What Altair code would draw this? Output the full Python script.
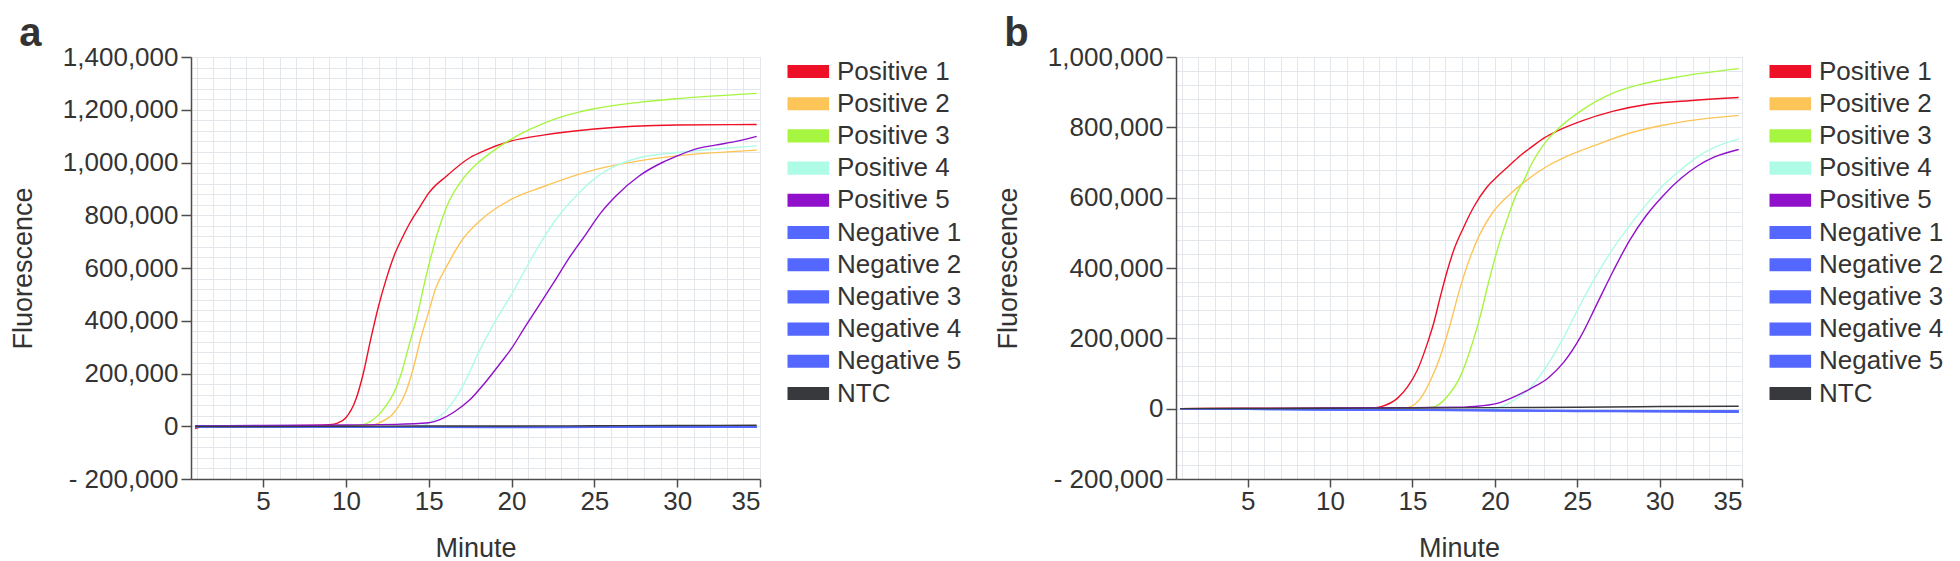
import altair as alt
import pandas as pd

FONT = "Liberation Sans, Arial, sans-serif"

series_names = ["Positive 1", "Positive 2", "Positive 3", "Positive 4", "Positive 5",
                "Negative 1", "Negative 2", "Negative 3", "Negative 4", "Negative 5", "NTC"]
series_colors = ["#ee1026", "#fdc457", "#a6f540", "#aefbe6", "#9010cc",
                 "#5468ff", "#5468ff", "#5468ff", "#5468ff", "#5468ff", "#38393d"]

x_tick_labels = [5, 10, 15, 20, 25, 30, 35]
grid_minutes = list(range(1, 36))

# ---------------- panel a ----------------
a_p1_min = [0.9, 1.5, 3, 6, 8, 9, 9.5, 10, 10.6, 11.05, 11.5, 11.97, 12.43, 12.9, 13.36, 13.82, 14.5, 15, 16.1, 17.5, 18.4, 20, 21.9, 25, 30, 34.8]
a_p1_val = [-9000, 1000, 1500, 2000, 3000, 6000, 12000, 32000, 101000, 200000, 330000, 455000, 557000, 645000, 709000, 766000, 835000, 884000, 950000, 1019000, 1046000, 1082000, 1104000, 1127000, 1142000, 1144000]

a_p2_min = [0.9, 5, 10, 11.5, 12, 12.9, 13.6, 14.05, 14.5, 14.98, 15.4, 16.1, 17.05, 18.2, 20, 21.9, 24, 25, 27.7, 30, 34.8]
a_p2_val = [0, 1000, 1500, 3000, 13000, 51000, 127000, 215000, 329000, 430000, 519000, 608000, 709000, 785000, 861000, 908000, 954000, 972000, 1006000, 1025000, 1047000]

a_p3_min = [0.9, 5, 10, 10.6, 11.05, 11.5, 12, 12.4, 12.9, 13.36, 13.8, 14.3, 14.75, 15.2, 15.67, 16.1, 17.05, 18, 18.9, 20, 21.2, 22.4, 24, 25, 27.7, 30, 34.8]
a_p3_val = [0, 1000, 2000, 3000, 6000, 19000, 44000, 76000, 127000, 203000, 304000, 418000, 544000, 658000, 760000, 835000, 937000, 1000000, 1044000, 1089000, 1128000, 1160000, 1190000, 1204000, 1228000, 1242000, 1262000]

a_p4_min = [0.9, 5, 10, 13, 14.75, 15.2, 16.1, 17.05, 18, 18.9, 20, 20.75, 21.7, 23.06, 24, 25, 26.3, 27.7, 30, 32.3, 34.8]
a_p4_val = [0, -1000, -2000, -3000, 4000, 19000, 63000, 152000, 278000, 385000, 500000, 585000, 690000, 815000, 880000, 938000, 988000, 1018000, 1038000, 1051000, 1063000]

a_p5_min = [0.9, 5, 10, 13, 15, 15.67, 16.6, 17.5, 18.4, 19.4, 20, 20.75, 21.7, 22.6, 23.5, 24.4, 25.4, 26.3, 27.7, 29.1, 30, 31.1, 32.3, 33.7, 34.8]
a_p5_val = [2000, 3000, 5000, 7000, 13000, 25000, 57000, 101000, 165000, 245000, 295000, 370000, 462000, 550000, 640000, 720000, 810000, 873000, 949000, 1000000, 1025000, 1051000, 1066000, 1082000, 1099000]

a_base_min = [0.9, 5, 10, 15, 20, 25, 30, 34.8]
a_n1 = [-2000, -2000, -3000, -4000, -4000, -3000, -3000, -2000]
a_n2 = [-1000, -2000, -3000, -3000, -4000, -4000, -3000, -3000]
a_n3 = [-2000, -3000, -3000, -4000, -5000, -4000, -4000, -4000]
a_n4 = [-1000, -1000, -2000, -3000, -3000, -3000, -2000, -2000]
a_n5 = [-2000, -2000, -2000, -3000, -4000, -4000, -4000, -3000]
a_ntc = [-1000, -1000, 0, 1000, 1000, 2000, 3000, 4000]

a_y_ticks = [-200000, 0, 200000, 400000, 600000, 800000, 1000000, 1200000, 1400000]

# ---------------- panel b ----------------
b_p1_min = [0.9, 5, 10, 12.5, 13.1, 14.1, 14.7, 15.3, 15.9, 16.3, 16.7, 17.1, 17.5, 18.1, 18.7, 19.5, 20.15, 20.8, 21.5, 22.2, 23, 23.8, 25.2, 27.2, 29.2, 31.3, 34.8]
b_p1_val = [0, 2000, 2000, 2000, 6000, 30000, 62000, 110000, 185000, 245000, 320000, 390000, 450000, 515000, 572000, 629000, 660000, 688000, 718000, 743000, 770000, 790000, 817000, 846000, 865000, 874000, 885000]

b_p2_min = [0.9, 5, 10, 14, 14.7, 15.5, 16.1, 16.7, 17.3, 17.9, 18.5, 19.1, 19.9, 20.8, 21.8, 23.2, 24.2, 26.2, 28.2, 30.2, 32.3, 34.8]
b_p2_val = [0, 1000, 1000, 1000, 3000, 30000, 81000, 150000, 242000, 345000, 430000, 497000, 560000, 605000, 645000, 690000, 714000, 751000, 784000, 806000, 822000, 834000]

b_p3_min = [0.9, 5, 10, 15, 16.3, 17.1, 17.9, 18.5, 19.1, 19.7, 20.3, 20.76, 21.36, 21.77, 22.17, 23.2, 23.8, 25.2, 27.2, 29.2, 31.3, 34.8]
b_p3_val = [0, 1000, 1000, 1000, 5000, 34000, 91000, 166000, 261000, 374000, 475000, 540000, 615000, 650000, 690000, 765000, 794000, 846000, 898000, 926000, 945000, 967000]

b_p4_min = [0.9, 5, 10, 15, 19, 20.15, 21.2, 22.2, 23.2, 24.2, 25.2, 26.2, 27.2, 28.2, 29.2, 30.2, 31.3, 32.3, 33.3, 34.8]
b_p4_val = [0, -2000, -3000, -4000, -3000, 2000, 25000, 62000, 125000, 205000, 297000, 382000, 457000, 522000, 581000, 634000, 680000, 716000, 742000, 767000]

b_p5_min = [0.9, 5, 10, 15, 18, 18.7, 20.15, 21.2, 22.2, 23.2, 24.2, 25.2, 26.2, 27.2, 28.2, 29.2, 30.2, 31.3, 32.3, 33.3, 34.8]
b_p5_val = [0, 1000, 2000, 3000, 4000, 6000, 15000, 34000, 58000, 86000, 133000, 204000, 298000, 393000, 480000, 550000, 605000, 655000, 690000, 715000, 737000]

b_base_min = [0.9, 5, 10, 15, 20, 25, 30, 34.8]
b_n1 = [0, -2000, -3000, -4000, -5000, -6000, -7000, -8000]
b_n2 = [0, -1000, -3000, -4000, -6000, -7000, -8000, -9000]
b_n3 = [0, -2000, -2000, -3000, -4000, -5000, -6000, -6000]
b_n4 = [0, -2000, -4000, -5000, -6000, -8000, -9000, -10000]
b_n5 = [0, -1000, -2000, -3000, -5000, -6000, -7000, -7000]
b_ntc = [0, 0, 1000, 2000, 3000, 4000, 6000, 7000]

b_y_ticks = [-200000, 0, 200000, 400000, 600000, 800000, 1000000]


def build_frame(series):
    rows = []
    for name, mins, vals in series:
        for m, v in zip(mins, vals):
            rows.append({"Series": name, "Minute": m, "Fluorescence": v})
    return pd.DataFrame(rows)


df_a = build_frame([
    ("Positive 1", a_p1_min, a_p1_val), ("Positive 2", a_p2_min, a_p2_val),
    ("Positive 3", a_p3_min, a_p3_val), ("Positive 4", a_p4_min, a_p4_val),
    ("Positive 5", a_p5_min, a_p5_val),
    ("Negative 1", a_base_min, a_n1), ("Negative 2", a_base_min, a_n2),
    ("Negative 3", a_base_min, a_n3), ("Negative 4", a_base_min, a_n4),
    ("Negative 5", a_base_min, a_n5), ("NTC", a_base_min, a_ntc),
])
df_b = build_frame([
    ("Positive 1", b_p1_min, b_p1_val), ("Positive 2", b_p2_min, b_p2_val),
    ("Positive 3", b_p3_min, b_p3_val), ("Positive 4", b_p4_min, b_p4_val),
    ("Positive 5", b_p5_min, b_p5_val),
    ("Negative 1", b_base_min, b_n1), ("Negative 2", b_base_min, b_n2),
    ("Negative 3", b_base_min, b_n3), ("Negative 4", b_base_min, b_n4),
    ("Negative 5", b_base_min, b_n5), ("NTC", b_base_min, b_ntc),
])

AXIS_COLOR = "#4d4d4d"
TEXT_COLOR = "#333333"
GRID_COLOR = "#e3e7eb"

# legend swatch: a band of thin horizontal strokes (filled-looking bar)
SWATCH_PATH = "".join(f"M-1,{y}H2.2" for y in ["-0.42", "-0.28", "-0.14", "0", "0.14", "0.28", "0.42"])


def panel(df, letter, y_ticks, width, legend_offset):
    y_min, y_max = y_ticks[0], y_ticks[-1]
    y_grid = list(range(y_min, y_max + 1, 40000))
    major_test_y = "indexof(" + str(y_ticks) + ", datum.value) >= 0"
    major_test_x = "indexof(" + str(x_tick_labels) + ", datum.value) >= 0"
    x_axis = alt.Axis(
        values=grid_minutes,
        labelExpr=f"{major_test_x} ? datum.label : ''",
        labelOverlap=False,
        tickOpacity={"condition": {"test": major_test_x, "value": 1}, "value": 0},
        tickSize=8, tickWidth=1.5, tickColor=AXIS_COLOR,
        labelPadding=1, labelFontSize=26, labelColor=TEXT_COLOR, labelFont=FONT,
        domainColor=AXIS_COLOR, domainWidth=1.5,
        grid=True, gridColor=GRID_COLOR, gridWidth=1,
        title="Minute", titleFontSize=27, titleFont=FONT, titleColor=TEXT_COLOR,
        titleFontWeight="normal", titlePadding=21,
    )
    y_axis = alt.Axis(
        values=y_grid,
        labelExpr=(f"{major_test_y} ? (datum.value < 0 ? '- ' + format(-datum.value, ',') "
                   f": format(datum.value, ',')) : ''"),
        labelOverlap=False,
        tickOpacity={"condition": {"test": major_test_y, "value": 1}, "value": 0},
        tickSize=10, tickWidth=1.5, tickColor=AXIS_COLOR,
        labelPadding=3, labelFontSize=26, labelColor=TEXT_COLOR, labelFont=FONT,
        domainColor=AXIS_COLOR, domainWidth=1.5,
        grid=True, gridColor=GRID_COLOR, gridWidth=1,
        title="Fluorescence", titleFontSize=27, titleFont=FONT, titleColor=TEXT_COLOR,
        titleFontWeight="normal", titlePadding=25,
    )
    legend = alt.Legend(
        title=None, orient="right", offset=legend_offset, padding=0,
        symbolType=SWATCH_PATH, symbolSize=676, symbolStrokeWidth=2.2,
        labelFontSize=26, labelFont=FONT, labelColor=TEXT_COLOR,
        labelOffset=22, rowPadding=4.2, labelLimit=400,
    )
    return alt.Chart(df).mark_line(strokeWidth=1.4, interpolate="monotone").encode(
        x=alt.X("Minute:Q", scale=alt.Scale(domain=[0.65, 35], nice=False, zero=False), axis=x_axis),
        y=alt.Y("Fluorescence:Q", scale=alt.Scale(domain=[y_min, y_max], nice=False), axis=y_axis),
        color=alt.Color("Series:N", scale=alt.Scale(domain=series_names, range=series_colors),
                        sort=series_names, legend=legend),
    ).properties(
        width=width, height=422,
        title=alt.TitleParams(letter, anchor="start", frame="bounds", fontSize=40,
                              fontWeight="bold", font=FONT, color=TEXT_COLOR, dx=10, offset=-10),
    )


chart_a = panel(df_a, "a", a_y_ticks, 569, 26)
chart_b = panel(df_b, "b", b_y_ticks, 566, 26)

chart = alt.hconcat(chart_a, chart_b, spacing=30).resolve_scale(
    color="independent", x="independent", y="independent"
).resolve_legend(color="independent").properties(
    padding={"top": 5, "left": 0, "right": 0, "bottom": 0}
).configure_view(strokeWidth=0).configure(background="white")

chart.save("out.html", embed_options={"renderer": "svg", "actions": False})
